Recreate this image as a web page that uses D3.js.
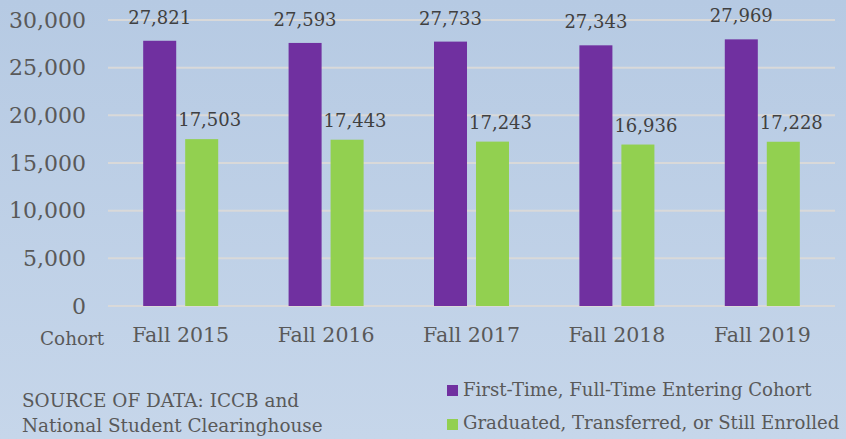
<!DOCTYPE html>
<html><head><meta charset="utf-8">
<script src="https://cdn.jsdelivr.net/npm/d3@7"></script>
<style>body{margin:0;padding:0;overflow:hidden}</style>
</head><body>
<svg id="c" width="846" height="439"></svg>
<script>
const categories = ["Fall 2015","Fall 2016","Fall 2017","Fall 2018","Fall 2019"];
const seriesNames = ["First-Time, Full-Time Entering Cohort","Graduated, Transferred, or Still Enrolled"];
const entering = [27821, 27593, 27733, 27343, 27969];
const graduated = [17503, 17443, 17243, 16936, 17228];
const yTicks = [0, 5000, 10000, 15000, 20000, 25000, 30000];
const colors = ["#7030a0", "#92d050"];

const svg = d3.select("#c");
const defs = svg.append("defs");
const grad = defs.append("linearGradient").attr("id","bg").attr("x1",0).attr("y1",0).attr("x2",0).attr("y2",1);
grad.append("stop").attr("offset","0%").attr("stop-color","#b6cae3");
grad.append("stop").attr("offset","100%").attr("stop-color","#c6d6ea");
svg.append("rect").attr("width",846).attr("height",439).attr("fill","url(#bg)");

const font = "DejaVu Serif";
const x = d3.scaleBand().domain(categories).range([108, 835]).paddingInner(0).paddingOuter(0);
const y = d3.scaleLinear().domain([0, 30000]).range([306, 20]);
const xs = d3.scaleBand().domain([0,1]).range([0, x.bandwidth()]).paddingInner(0.214).paddingOuter(0.838);

// gridlines
svg.append("g").selectAll("line").data(yTicks).join("line")
  .attr("x1",108).attr("x2",835).attr("y1",d=>y(d)).attr("y2",d=>y(d))
  .attr("stroke","#d9d9d9").attr("stroke-width",2);

// y axis labels
const yAxis = d3.axisLeft(y).tickValues(yTicks).tickFormat(d3.format(",")).tickSize(0).tickPadding(0);
const ya = svg.append("g").attr("transform","translate(86,0)").call(yAxis);
ya.select(".domain").remove();
ya.selectAll("text").attr("font-family",font).attr("font-size",22).attr("fill","#595959");

// x axis
const xAxis = d3.axisBottom(x).tickSize(0).tickPadding(0);
const xa = svg.append("g").attr("transform","translate(0,327)").call(xAxis);
xa.select(".domain").remove();
xa.selectAll("text").attr("font-family",font).attr("font-size",20.5).attr("fill","#595959");
svg.append("text").attr("x",40).attr("y",345).text("Cohort")
  .attr("font-family",font).attr("font-size",18.4).attr("fill","#595959");

const data = [entering, graduated];
data.forEach((vals, si) => {
  const g = svg.append("g");
  g.selectAll("rect").data(vals).join("rect")
    .attr("x",(d,i)=>x(categories[i]) + xs(si))
    .attr("width", xs.bandwidth())
    .attr("y", d=>y(d)).attr("height", d=>y(0)-y(d))
    .attr("fill", colors[si]);
  g.selectAll("text").data(vals).join("text")
    .attr("x",(d,i)=>x(categories[i]) + xs(si) + xs.bandwidth()/2 + (si===1?8:0))
    .attr("y", d=>y(d) - (si===1?13:17))
    .attr("text-anchor","middle")
    .attr("font-family",font).attr("font-size",18).attr("fill","#404040")
    .text(d=>d3.format(",")(d));
});

// source
const src = svg.append("text").attr("font-family",font).attr("font-size",18.4).attr("fill","#595959");
src.append("tspan").attr("x",22).attr("y",407).text("SOURCE OF DATA: ICCB and");
src.append("tspan").attr("x",22).attr("y",432).text("National Student Clearinghouse");

// legend
const lg = svg.append("g");
seriesNames.forEach((n, i) => {
  lg.append("rect").attr("x",447).attr("y",385 + i*34).attr("width",11).attr("height",11).attr("fill",colors[i]);
  lg.append("text").attr("x",463).attr("y",396 + i*33).text(n)
    .attr("font-family",font).attr("font-size",18.1).attr("fill","#595959");
});
</script>
</body></html>
